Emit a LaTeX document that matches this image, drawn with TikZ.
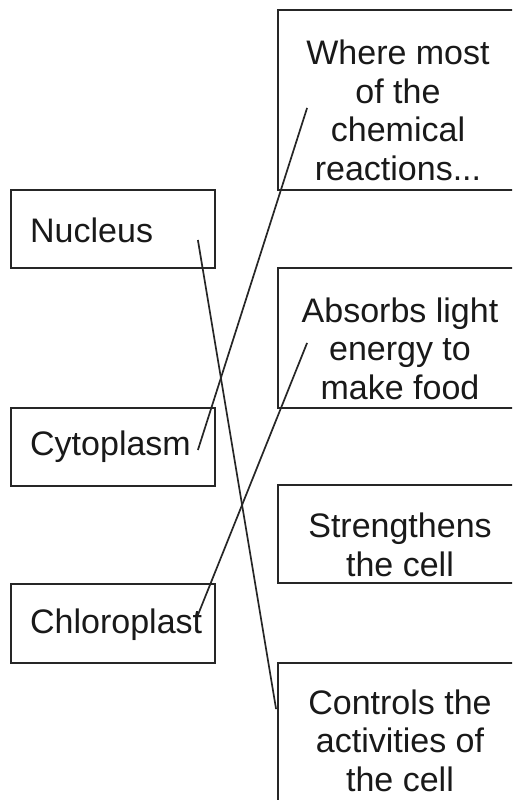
\documentclass[tikz,border=0pt]{standalone}
\usepackage{fontspec}
\setmainfont{Liberation Sans}
\usetikzlibrary{calc}
\tikzset{
  lbox/.style={draw=black!85, line width=1.8pt, minimum width=204pt, minimum height=78pt, inner sep=0pt},
  rbox/.style={draw=black!85, line width=1.8pt, minimum width=252pt, inner sep=0pt},
  txt/.style={font=\fontsize{34}{38.5}\selectfont, align=center, inner sep=0pt, anchor=base, text=black!90},
  ltxt/.style={font=\fontsize{34}{38.5}\selectfont, inner sep=0pt, anchor=base west, text=black!90},
  link/.style={draw=black!85, line width=1.7pt}
}
\begin{document}
\begin{tikzpicture}[x=1pt,y=-1pt]
\useasboundingbox (0,0) rectangle (512,800);
\clip (0,0) rectangle (512,800);
\fill[white] (0,0) rectangle (512,800);
% left boxes
\node[lbox] (nuc) at (113,229) {};
\node[lbox] (cyto) at (113,447) {};
\node[lbox, minimum height=79pt] (chl) at (113,623.5) {};
\node[ltxt] (tnuc) at (30,242) {Nucleus};
\node[ltxt] (tcyto) at (30,455) {Cytoplasm};
\node[ltxt] (tchl) at (30,633) {Chloroplast};
% right boxes
\node[rbox, minimum height=180pt] (b1) at (404,100) {};
\node[rbox, minimum height=140pt] (b2) at (404,338) {};
\node[rbox, minimum height=98pt] (b3) at (404,534) {};
\node[rbox, minimum height=167pt] (b4) at (404,746.5) {};
% text nodes anchored at the baseline of their last line
\node[txt] (t1) at (398,180) {Where most\\of the\\chemical\\reactions...};
\node[txt] (t2) at (400,399) {Absorbs light\\energy to\\make food};
\node[txt] (t3) at (400,576) {Strengthens\\the cell};
\node[txt] (t4) at (400,791) {Controls the\\activities of\\the cell};
% connector ends
\coordinate (pnuc) at ($(nuc.east)+(-18,11)$);
\coordinate (pcyto) at ($(cyto.east)+(-18,3)$);
\coordinate (pchl) at ($(chl.east)+(-18,-8.5)$);
\coordinate (p1) at ($(b1.south west)+(30,-83)$);
\coordinate (p2) at ($(b2.south west)+(30,-66)$);
\coordinate (p4) at ($(b4.north west)+(-1,47)$);
\draw[link] (pcyto) -- (p1);
\draw[link] (pnuc) -- (p4);
\draw[link] (pchl) -- (p2);
\end{tikzpicture}
\end{document}
